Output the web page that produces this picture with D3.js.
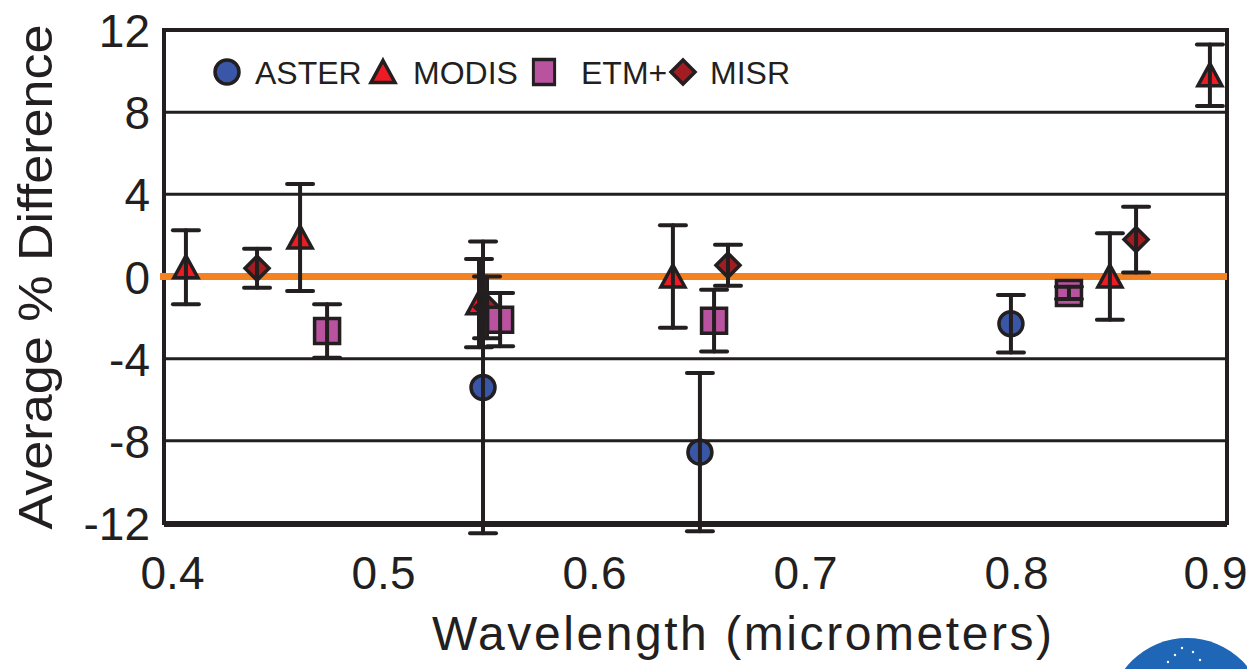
<meta charset="utf-8">
<head>
<style>
  body { margin: 0; background: #fff; }
  svg { display: block; }
  text { font-family: "Liberation Sans", Arial, sans-serif; fill: #231f20; }
</style>
</head>
<body>
<div id="chartId"></div>
</body>
<script src="https://d3js.org/d3.v7.min.js"></script>
<script>

// data
var asterWl  = [0.5474, 0.6502, 0.7976];
var asterVal = [-5.4, -8.55, -2.3];
var asterErr = [7.1, 3.85, 1.4];

var modisWl  = [0.4066, 0.4607, 0.5455, 0.6374, 0.8445, 0.8919];
var modisVal = [0.45, 1.9, -1.3, 0, 0, 9.8];
var modisErr = [1.8, 2.6, 2.15, 2.5, 2.1, 1.5];

var etmWl  = [0.4735, 0.5555, 0.6569, 0.8251];
var etmVal = [-2.65, -2.1, -2.15, -0.8];
var etmErr = [1.3, 1.3, 1.5, 0.3];

var misrWl  = [0.4403, 0.5493, 0.6635, 0.8569];
var misrVal = [0.4, -1.5, 0.55, 1.8];
var misrErr = [0.95, 1.5, 1.0, 1.6];

var xTicks = [0.4, 0.5, 0.6, 0.7, 0.8, 0.9];
var yTicks = [-12, -8, -4, 0, 4, 8, 12];
var gridVals = [-8, -4, 4, 8];
var seriesNames = ["ASTER", "MODIS", "ETM+", "MISR"];

var w = 1247, h = 669;
var ink = "#231f20";

var svg = d3.select("#chartId").append("svg")
	.attr("width", w)
	.attr("height", h);

var x = d3.scaleLinear().domain([0.4, 0.9]).range([172, 1227]);
var y = d3.scaleLinear().domain([-12, 12]).range([523, 30]);

var frameL = 164, frameR = 1227;

// marker shapes
function shapePath(kind) {
	if (kind == "tri") return "M0,-11.5L12,10.5L-12,10.5Z";
	if (kind == "sq") return "M-12.5,-12.5H12.5V12.5H-12.5Z";
	if (kind == "dia") return "M0,-12L12,0L0,12L-12,0Z";
	return d3.symbol().type(d3.symbolCircle).size(Math.PI * 12 * 12)();
}

var series = [
	{ name: "ASTER", wl: asterWl, val: asterVal, err: asterErr, kind: "circ", fill: "#3a56a6" },
	{ name: "MODIS", wl: modisWl, val: modisVal, err: modisErr, kind: "tri",  fill: "#ed1c24" },
	{ name: "MISR",  wl: misrWl,  val: misrVal,  err: misrErr,  kind: "dia",  fill: "#a11d21" },
	{ name: "ETM+",  wl: etmWl,   val: etmVal,   err: etmErr,   kind: "sq",   fill: "#b9539f" }
];

// NASA logo corner
svg.append("circle")
	.attr("cx", 1187).attr("cy", 716).attr("r", 78)
	.attr("fill", "#1f66b6");
[[1175, 655], [1182, 648], [1193, 652], [1168, 662], [1200, 660]].forEach(function(p) {
	svg.append("circle").attr("cx", p[0]).attr("cy", p[1]).attr("r", 1.2).attr("fill", "#fff");
});

// grid
svg.selectAll(".grid")
	.data(gridVals)
	.enter()
	.append("line")
	.attr("x1", frameL).attr("x2", frameR)
	.attr("y1", function(d) { return y(d); })
	.attr("y2", function(d) { return y(d); })
	.attr("stroke", ink)
	.attr("stroke-width", 3);

// frame
svg.append("rect")
	.attr("x", frameL).attr("y", y(12))
	.attr("width", frameR - frameL).attr("height", y(-12) - y(12))
	.attr("fill", "none")
	.attr("stroke", ink)
	.attr("stroke-width", 4);
svg.append("line")
	.attr("x1", frameL).attr("x2", frameR)
	.attr("y1", y(-12) + 1).attr("y2", y(-12) + 1)
	.attr("stroke", ink).attr("stroke-width", 6);

// zero line
svg.append("line")
	.attr("x1", frameL - 4).attr("x2", frameR)
	.attr("y1", y(0)).attr("y2", y(0))
	.attr("stroke", "#f58220")
	.attr("stroke-width", 7);

// markers
var pts = [];
series.forEach(function(s) {
	s.wl.forEach(function(d, i) {
		pts.push({ s: s, wl: d, v: s.val[i], e: s.err[i] });
	});
});

svg.selectAll(".mk")
	.data(pts)
	.enter()
	.append("path")
	.attr("d", function(d) { return shapePath(d.s.kind); })
	.attr("transform", function(d) { return "translate(" + x(d.wl) + "," + y(d.v) + ")"; })
	.attr("fill", function(d) { return d.s.fill; })
	.attr("stroke", ink)
	.attr("stroke-width", 3.5)
	.attr("stroke-linejoin", "miter");

// error bars on top
var eb = svg.selectAll(".eb")
	.data(pts)
	.enter()
	.append("g")
	.attr("stroke", ink)
	.attr("stroke-width", 4)
	.attr("stroke-linecap", "round");

eb.append("line")
	.attr("x1", function(d) { return x(d.wl); })
	.attr("x2", function(d) { return x(d.wl); })
	.attr("y1", function(d) { return y(d.v + d.e); })
	.attr("y2", function(d) { return y(d.v - d.e); });
eb.append("line")
	.attr("x1", function(d) { return x(d.wl) - 13; })
	.attr("x2", function(d) { return x(d.wl) + 13; })
	.attr("y1", function(d) { return y(d.v + d.e); })
	.attr("y2", function(d) { return y(d.v + d.e); });
eb.append("line")
	.attr("x1", function(d) { return x(d.wl) - 13; })
	.attr("x2", function(d) { return x(d.wl) + 13; })
	.attr("y1", function(d) { return y(d.v - d.e); })
	.attr("y2", function(d) { return y(d.v - d.e); });

// axes
var yAxis = svg.append("g")
	.attr("transform", "translate(150,0)")
	.call(d3.axisLeft(y).tickValues(yTicks).tickSize(0).tickPadding(0)
		.tickFormat(function(d) { return String(d); }));
yAxis.select(".domain").remove();
yAxis.selectAll("text")
	.attr("font-size", 46)
	.attr("dy", "0.36em")
	.attr("fill", ink)
	.style("font-family", "'Liberation Sans', Arial, sans-serif");

var xAxis = svg.append("g")
	.attr("transform", "translate(0,556)")
	.call(d3.axisBottom(x).tickValues(xTicks).tickSize(0).tickPadding(0)
		.tickFormat(function(d) { return d.toFixed(1); }));
xAxis.select(".domain").remove();
xAxis.selectAll("text")
	.attr("font-size", 46)
	.attr("dy", "0.71em")
	.attr("fill", ink)
	.style("font-family", "'Liberation Sans', Arial, sans-serif");
xAxis.selectAll(".tick").filter(function(d) { return d == 0.9; })
	.select("text")
	.attr("text-anchor", "end")
	.attr("dx", w - x(0.9));

// titles
svg.append("text")
	.attr("transform", "translate(52,277) rotate(-90)")
	.attr("text-anchor", "middle")
	.attr("font-size", 49)
	.attr("textLength", 505)
	.attr("lengthAdjust", "spacingAndGlyphs")
	.text("Average % Difference");

svg.append("text")
	.attr("x", 742).attr("y", 650)
	.attr("text-anchor", "middle")
	.attr("font-size", 48)
	.attr("textLength", 620)
	.attr("lengthAdjust", "spacing")
	.text("Wavelength (micrometers)");

// legend
var legX = [227, 383, 544, 683];
var legTextX = [255, 413, 581, 710];
var legKinds = ["circ", "tri", "sq", "dia"];
var legFill = ["#3a56a6", "#ed1c24", "#b9539f", "#a11d21"];

var leg = svg.selectAll(".leg")
	.data(seriesNames)
	.enter()
	.append("g");
leg.append("path")
	.attr("d", function(d, i) { return shapePath(legKinds[i]); })
	.attr("transform", function(d, i) { return "translate(" + legX[i] + ",72)" + (legKinds[i] == "sq" ? " scale(0.85,1)" : ""); })
	.attr("fill", function(d, i) { return legFill[i]; })
	.attr("stroke", ink)
	.attr("stroke-width", 3.5);
leg.append("text")
	.attr("x", function(d, i) { return legTextX[i]; })
	.attr("y", 84)
	.attr("font-size", 32)
	.text(function(d) { return d; });

</script>
